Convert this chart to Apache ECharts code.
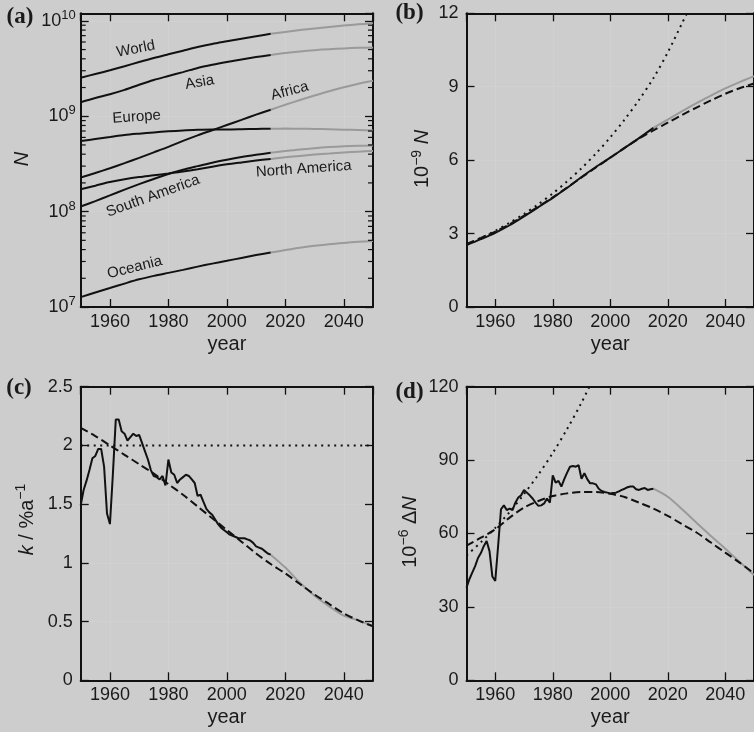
<!DOCTYPE html>
<html><head><meta charset="utf-8">
<script src="https://cdn.jsdelivr.net/npm/echarts@6/dist/echarts.min.js"></script>
<style>html,body{margin:0;padding:0;background:#cdcdcd;}#c{width:754px;height:732px;}</style>
</head><body><div id="c"></div>
<script>
// ---------- data ----------
const yearsHist5 = [1950,1955,1960,1965,1970,1975,1980,1985,1990,1995,2000,2005,2010,2015];
const yearsProj5 = [2015,2020,2025,2030,2035,2040,2045,2050];
const yearsFull5 = [1950,1955,1960,1965,1970,1975,1980,1985,1990,1995,2000,2005,2010,2015,2020,2025,2030,2035,2040,2045,2050];
const yearsDot5  = [1950,1955,1960,1965,1970,1975,1980,1985,1990,1995,2000,2005,2010,2015,2020,2025,2030];
const yearsAnnual = [1950,1951,1952,1953,1954,1955,1956,1957,1958,1959,1960,1961,1962,1963,1964,1965,1966,1967,1968,1969,
  1970,1971,1972,1973,1974,1975,1976,1977,1978,1979,1980,1981,1982,1983,1984,1985,1986,1987,1988,1989,
  1990,1991,1992,1993,1994,1995,1996,1997,1998,1999,2000,2001,2002,2003,2004,2005,2006,2007,2008,2009,
  2010,2011,2012,2013,2014,2015];

// panel (a): population in billions
const worldHist = [2.53,2.77,3.03,3.34,3.70,4.08,4.46,4.87,5.31,5.72,6.10,6.50,6.90,7.32];
const worldProj = [7.32,7.66,8.00,8.33,8.64,8.93,9.19,9.43];
const asiaHist = [1.40,1.55,1.70,1.89,2.14,2.40,2.64,2.90,3.21,3.47,3.71,3.94,4.17,4.39];
const asiaProj = [4.39,4.60,4.78,4.93,5.05,5.14,5.21,5.25];
const europeHist = [0.549,0.577,0.605,0.635,0.657,0.677,0.694,0.708,0.721,0.727,0.726,0.730,0.736,0.740];
const europeProj = [0.740,0.742,0.740,0.736,0.730,0.723,0.716,0.709];
const africaHist = [0.228,0.254,0.285,0.322,0.366,0.418,0.478,0.551,0.630,0.713,0.808,0.916,1.039,1.17];
const africaProj = [1.17,1.32,1.48,1.65,1.83,2.01,2.19,2.35];
const southAmHist = [0.113,0.129,0.148,0.170,0.194,0.220,0.248,0.275,0.300,0.326,0.350,0.373,0.394,0.414];
const southAmProj = [0.414,0.432,0.449,0.463,0.475,0.484,0.490,0.494];
const northAmHist = [0.172,0.187,0.204,0.218,0.230,0.240,0.251,0.263,0.278,0.296,0.313,0.328,0.343,0.357];
const northAmProj = [0.357,0.371,0.384,0.396,0.406,0.416,0.425,0.433];
const oceaniaHist = [0.0127,0.0142,0.0158,0.0176,0.0195,0.0212,0.0228,0.0245,0.0265,0.0285,0.0305,0.0327,0.0350,0.0372];
const oceaniaProj = [0.0372,0.0395,0.0418,0.0438,0.0456,0.0470,0.0482,0.0492];
const logMajorTicks = [1e7,1e8,1e9,1e10];
const logMinorTicks = [2e7,3e7,4e7,5e7,6e7,7e7,8e7,9e7,2e8,3e8,4e8,5e8,6e8,7e8,8e8,9e8,2e9,3e9,4e9,5e9,6e9,7e9,8e9,9e9];

// panel (b): 1e-9 N
const bModel = [2.58,2.82,3.08,3.38,3.73,4.10,4.48,4.88,5.29,5.70,6.10,6.50,6.88,7.22,7.53,7.85,8.15,8.44,8.71,8.94,9.13];
const bExp = [2.55,2.82,3.11,3.44,3.80,4.20,4.64,5.13,5.67,6.27,6.93,7.66,8.46,9.35,10.4,11.6,12.8];

// panel (c): k / % a^-1
const kAnnual = [1.49,1.62,1.70,1.79,1.89,1.91,1.97,1.97,1.82,1.42,1.33,1.75,2.22,2.22,2.12,2.10,2.04,2.07,2.10,2.08,
  2.09,2.02,1.95,1.88,1.79,1.74,1.73,1.71,1.74,1.66,1.88,1.77,1.75,1.68,1.71,1.73,1.75,1.74,1.71,1.68,
  1.57,1.58,1.52,1.46,1.43,1.41,1.37,1.33,1.30,1.28,1.26,1.24,1.23,1.22,1.21,1.21,1.21,1.20,1.19,1.17,
  1.14,1.13,1.12,1.10,1.08,1.07];
const kProj = [1.07,0.96,0.83,0.72,0.63,0.55,0.51,0.46];
const kModel = [2.15,2.08,2.00,1.92,1.84,1.76,1.67,1.58,1.48,1.38,1.28,1.18,1.08,0.99,0.91,0.82,0.73,0.65,0.57,0.51,0.46];
const kConstYears = [1950,2050];
const kConst = [2.0,2.0];

// panel (d): 1e-6 dN
const dAnnual = [37.9,41.3,44.0,46.7,50.0,52.0,54.8,56.9,52.8,42.4,40.6,55.0,69.9,71.5,69.6,70.2,69.6,72.6,74.7,75.6,
  77.8,76.7,75.6,74.3,72.6,71.3,71.5,72.3,74.3,72.6,83.8,80.8,81.5,79.2,82.2,84.9,87.3,87.6,87.3,87.9,
  82.4,84.6,82.2,80.5,80.5,80.1,78.3,77.4,77.0,76.7,76.4,76.6,76.7,77.2,77.8,78.3,78.9,79.2,79.2,78.1,
  77.8,78.3,78.6,77.8,78.1,78.3];
const dProj = [78.3,75.0,69.9,64.4,59.0,53.8,48.4,43.0];
const dModel = [55.0,58.3,61.7,66.5,70.6,73.3,75.3,76.4,77.0,77.0,76.2,74.9,72.6,70.2,67.2,63.8,60.4,56.3,52.2,48.1,43.7];
const dExpYears = [1950,1955,1960,1965,1970,1975,1980,1985,1990,1995];
const dExp = [51.0,56.4,62.3,68.8,76.1,84.1,92.9,102.7,113.5,125.4];

// ---------- build ----------
const FONT = '"Liberation Sans", Arial, Helvetica, sans-serif';
const AXC = '#111';
const TXT = '#1a1a1a';
const GRAY = '#9a9a9a';
const GRID_LINE = '#d1d1d1';
const pairs = (xs, ys, f) => xs.map((x, i) => [x, f ? ys[i] * f : ys[i]]);

const grids = [
  {left: 80.7, top: 13.3, width: 292.3, height: 293.7},
  {left: 466.5, top: 13.3, width: 293, height: 293.7},
  {left: 80.7, top: 386.7, width: 292.3, height: 293.6},
  {left: 466.5, top: 386.7, width: 293, height: 293.6}
];

function xAx(g, top) {
  return {
    type: 'value', gridIndex: g, min: 1950, max: 2050, splitNumber: 5,
    position: top ? 'top' : 'bottom',
    axisLine: {show: true, onZero: false, lineStyle: {color: AXC, width: 2}},
    axisTick: {show: true, inside: true, length: 8, lineStyle: {color: AXC, width: 1.3}},
    axisLabel: top ? {show: false} : {
      color: TXT, fontSize: 18, fontFamily: FONT, margin: 6,
      showMinLabel: false, showMaxLabel: false,
      formatter: v => (Math.abs(v % 20) < 1e-6 && v > 1950 && v < 2050) ? String(Math.round(v)) : ''
    },
    splitLine: {show: !top, lineStyle: {color: GRID_LINE, width: 1}},
    name: top ? '' : 'year', nameLocation: 'middle', nameGap: 27,
    nameTextStyle: {fontSize: 20, color: TXT, fontFamily: FONT}
  };
}
function yAx(g, right, cfg) {
  const base = {
    gridIndex: g, position: right ? 'right' : 'left',
    axisLine: {show: true, onZero: false, lineStyle: {color: AXC, width: 2}},
    axisTick: {show: true, inside: true, length: 8, lineStyle: {color: AXC, width: 1.3}},
    splitLine: {show: !right, lineStyle: {color: GRID_LINE, width: 1}},
  };
  Object.assign(base, cfg);
  if (right) base.axisLabel = {show: false};
  return base;
}
const logLabel = {
  color: TXT, fontFamily: FONT, margin: 5, showMaxLabel: false,
  formatter: v => {
    const e = Math.log10(v); const r = Math.round(e);
    if (Math.abs(e - r) > 0.01) return '';
    return '{b|10}{s|' + r + '}';
  },
  rich: {
    b: {fontSize: 18, fontFamily: FONT, color: TXT, lineHeight: 24},
    s: {fontSize: 13, fontFamily: FONT, color: TXT, lineHeight: 13, verticalAlign: 'top'}
  }
};
const linLabel = {color: TXT, fontSize: 18, fontFamily: FONT, margin: 8};

const yA = {type: 'log', logBase: 10, min: 1e7, max: 1.2e10, axisLabel: logLabel};
const yB = {type: 'value', min: 0, max: 12, interval: 3, axisLabel: linLabel};
const yC = {type: 'value', min: 0, max: 2.5, interval: 0.5, axisLabel: linLabel};
const yD = {type: 'value', min: 0, max: 120, interval: 30, axisLabel: linLabel};

const xAxes = [xAx(0), xAx(1), xAx(2), xAx(3), xAx(0, true), xAx(1, true), xAx(2, true), xAx(3, true)];
const yAxes = [yAx(0, false, yA), yAx(1, false, yB), yAx(2, false, yC), yAx(3, false, yD),
  yAx(0, true, Object.assign({}, yA, {axisLabel: {show: false}})), yAx(1, true, yB), yAx(2, true, yC), yAx(3, true, yD)];

function line(g, data, color, type, smooth, z) {
  return {
    type: 'line', xAxisIndex: g, yAxisIndex: g, data: data, symbol: 'none', showSymbol: false,
    smooth: smooth || false, silent: true, clip: true, z: z || 2,
    lineStyle: {color: color, width: 2, type: type || 'solid', cap: 'butt'}
  };
}
const DASH = [8, 4];
const DOT = [2, 4.5];

const series = [];
// panel a
const regions = [
  [worldHist, worldProj], [asiaHist, asiaProj], [europeHist, europeProj], [africaHist, africaProj],
  [southAmHist, southAmProj], [northAmHist, northAmProj], [oceaniaHist, oceaniaProj]
];
regions.forEach(r => {
  series.push(line(0, pairs(yearsProj5, r[1], 1e9), GRAY, 'solid', 0.3, 2));
  series.push(line(0, pairs(yearsHist5, r[0], 1e9), '#111', 'solid', 0.3, 3));
});
series.push({
  type: 'custom', xAxisIndex: 0, yAxisIndex: 0, silent: true, clip: false, z: 5,
  data: logMinorTicks.map(v => [1950, v]),
  renderItem: (params, api) => {
    const v = api.value(1);
    const l = api.coord([1950, v]); const r = api.coord([2050, v]);
    return {type: 'group', children: [
      {type: 'line', shape: {x1: l[0], y1: l[1], x2: l[0] + 5, y2: l[1]}, style: {stroke: AXC, lineWidth: 1.2}},
      {type: 'line', shape: {x1: r[0] - 5, y1: r[1], x2: r[0], y2: r[1]}, style: {stroke: AXC, lineWidth: 1.2}}
    ]};
  }
});
// panel b
series.push(line(1, pairs(yearsDot5, bExp), '#111', DOT, 0.3, 2));
series.push(line(1, pairs(yearsProj5, worldProj), GRAY, 'solid', 0.3, 2));
series.push(line(1, pairs(yearsHist5, worldHist), '#111', 'solid', 0.3, 3));
series.push(line(1, pairs(yearsFull5, bModel), '#111', DASH, 0.3, 4));
// panel c
series.push(line(2, pairs(kConstYears, kConst), '#111', DOT, false, 2));
series.push(line(2, pairs(yearsProj5, kProj), GRAY, 'solid', 0.3, 2));
series.push(line(2, pairs(yearsFull5, kModel), '#111', DASH, 0.3, 3));
series.push(line(2, pairs(yearsAnnual, kAnnual), '#111', 'solid', false, 4));
// panel d
series.push(line(3, pairs(dExpYears, dExp), '#111', DOT, 0.3, 2));
series.push(line(3, pairs(yearsProj5, dProj), GRAY, 'solid', 0.3, 2));
series.push(line(3, pairs(yearsFull5, dModel), '#111', DASH, 0.3, 3));
series.push(line(3, pairs(yearsAnnual, dAnnual), '#111', 'solid', false, 4));

// annotations / labels
const deg = Math.PI / 180;
function txt(x, y, text, rot, extra) {
  return Object.assign({
    type: 'text', x: x, y: y, rotation: (rot || 0) * deg, silent: true, z: 100,
    style: Object.assign({text: text, fill: TXT, font: '15px ' + FONT, align: 'center', verticalAlign: 'middle'}, extra || {})
  });
}
const richName = {
  n: {fontSize: 20, fontFamily: FONT, color: TXT, lineHeight: 26},
  i: {fontSize: 20, fontFamily: FONT, color: TXT, fontStyle: 'italic', lineHeight: 26},
  s: {fontSize: 14, fontFamily: FONT, color: TXT, lineHeight: 14, verticalAlign: 'top'}
};
const panelFont = 'bold 23px "Liberation Serif", "Times New Roman", serif';
const graphic = [
  txt(20, 17, '(a)', 0, {font: panelFont}),
  txt(409.5, 13.5, '(b)', 0, {font: panelFont}),
  txt(19, 388, '(c)', 0, {font: panelFont}),
  txt(409.5, 392, '(d)', 0, {font: panelFont}),
  txt(135.8, 49, 'World', 11),
  txt(199.7, 82.5, 'Asia', 10),
  txt(289.7, 91, 'Africa', 15),
  txt(136.7, 117, 'Europe', 4),
  txt(303.7, 169, 'North America', 4),
  txt(153, 196, 'South America', 20),
  txt(134.7, 267.5, 'Oceania', 14),
  txt(22, 159, '{i|N}', 90, {rich: richName, font: '20px ' + FONT}),
  txt(422.7, 159, '{n|10}{s|\u22129}{n| }{i|N}', 90, {rich: richName, font: '20px ' + FONT}),
  txt(27.5, 519.5, '{i|k}{n| / %a}{s|\u22121}', 90, {rich: richName, font: '20px ' + FONT}),
  txt(410, 532, '{n|10}{s|\u22126}{n| \u0394}{i|N}', 90, {rich: richName, font: '20px ' + FONT})
];

const chart = echarts.init(document.getElementById('c'), null, {renderer: 'canvas'});
chart.setOption({
  backgroundColor: '#cdcdcd',
  animation: false,
  textStyle: {fontFamily: FONT},
  grid: grids,
  xAxis: xAxes,
  yAxis: yAxes,
  series: series,
  graphic: graphic
});
</script></body></html>
